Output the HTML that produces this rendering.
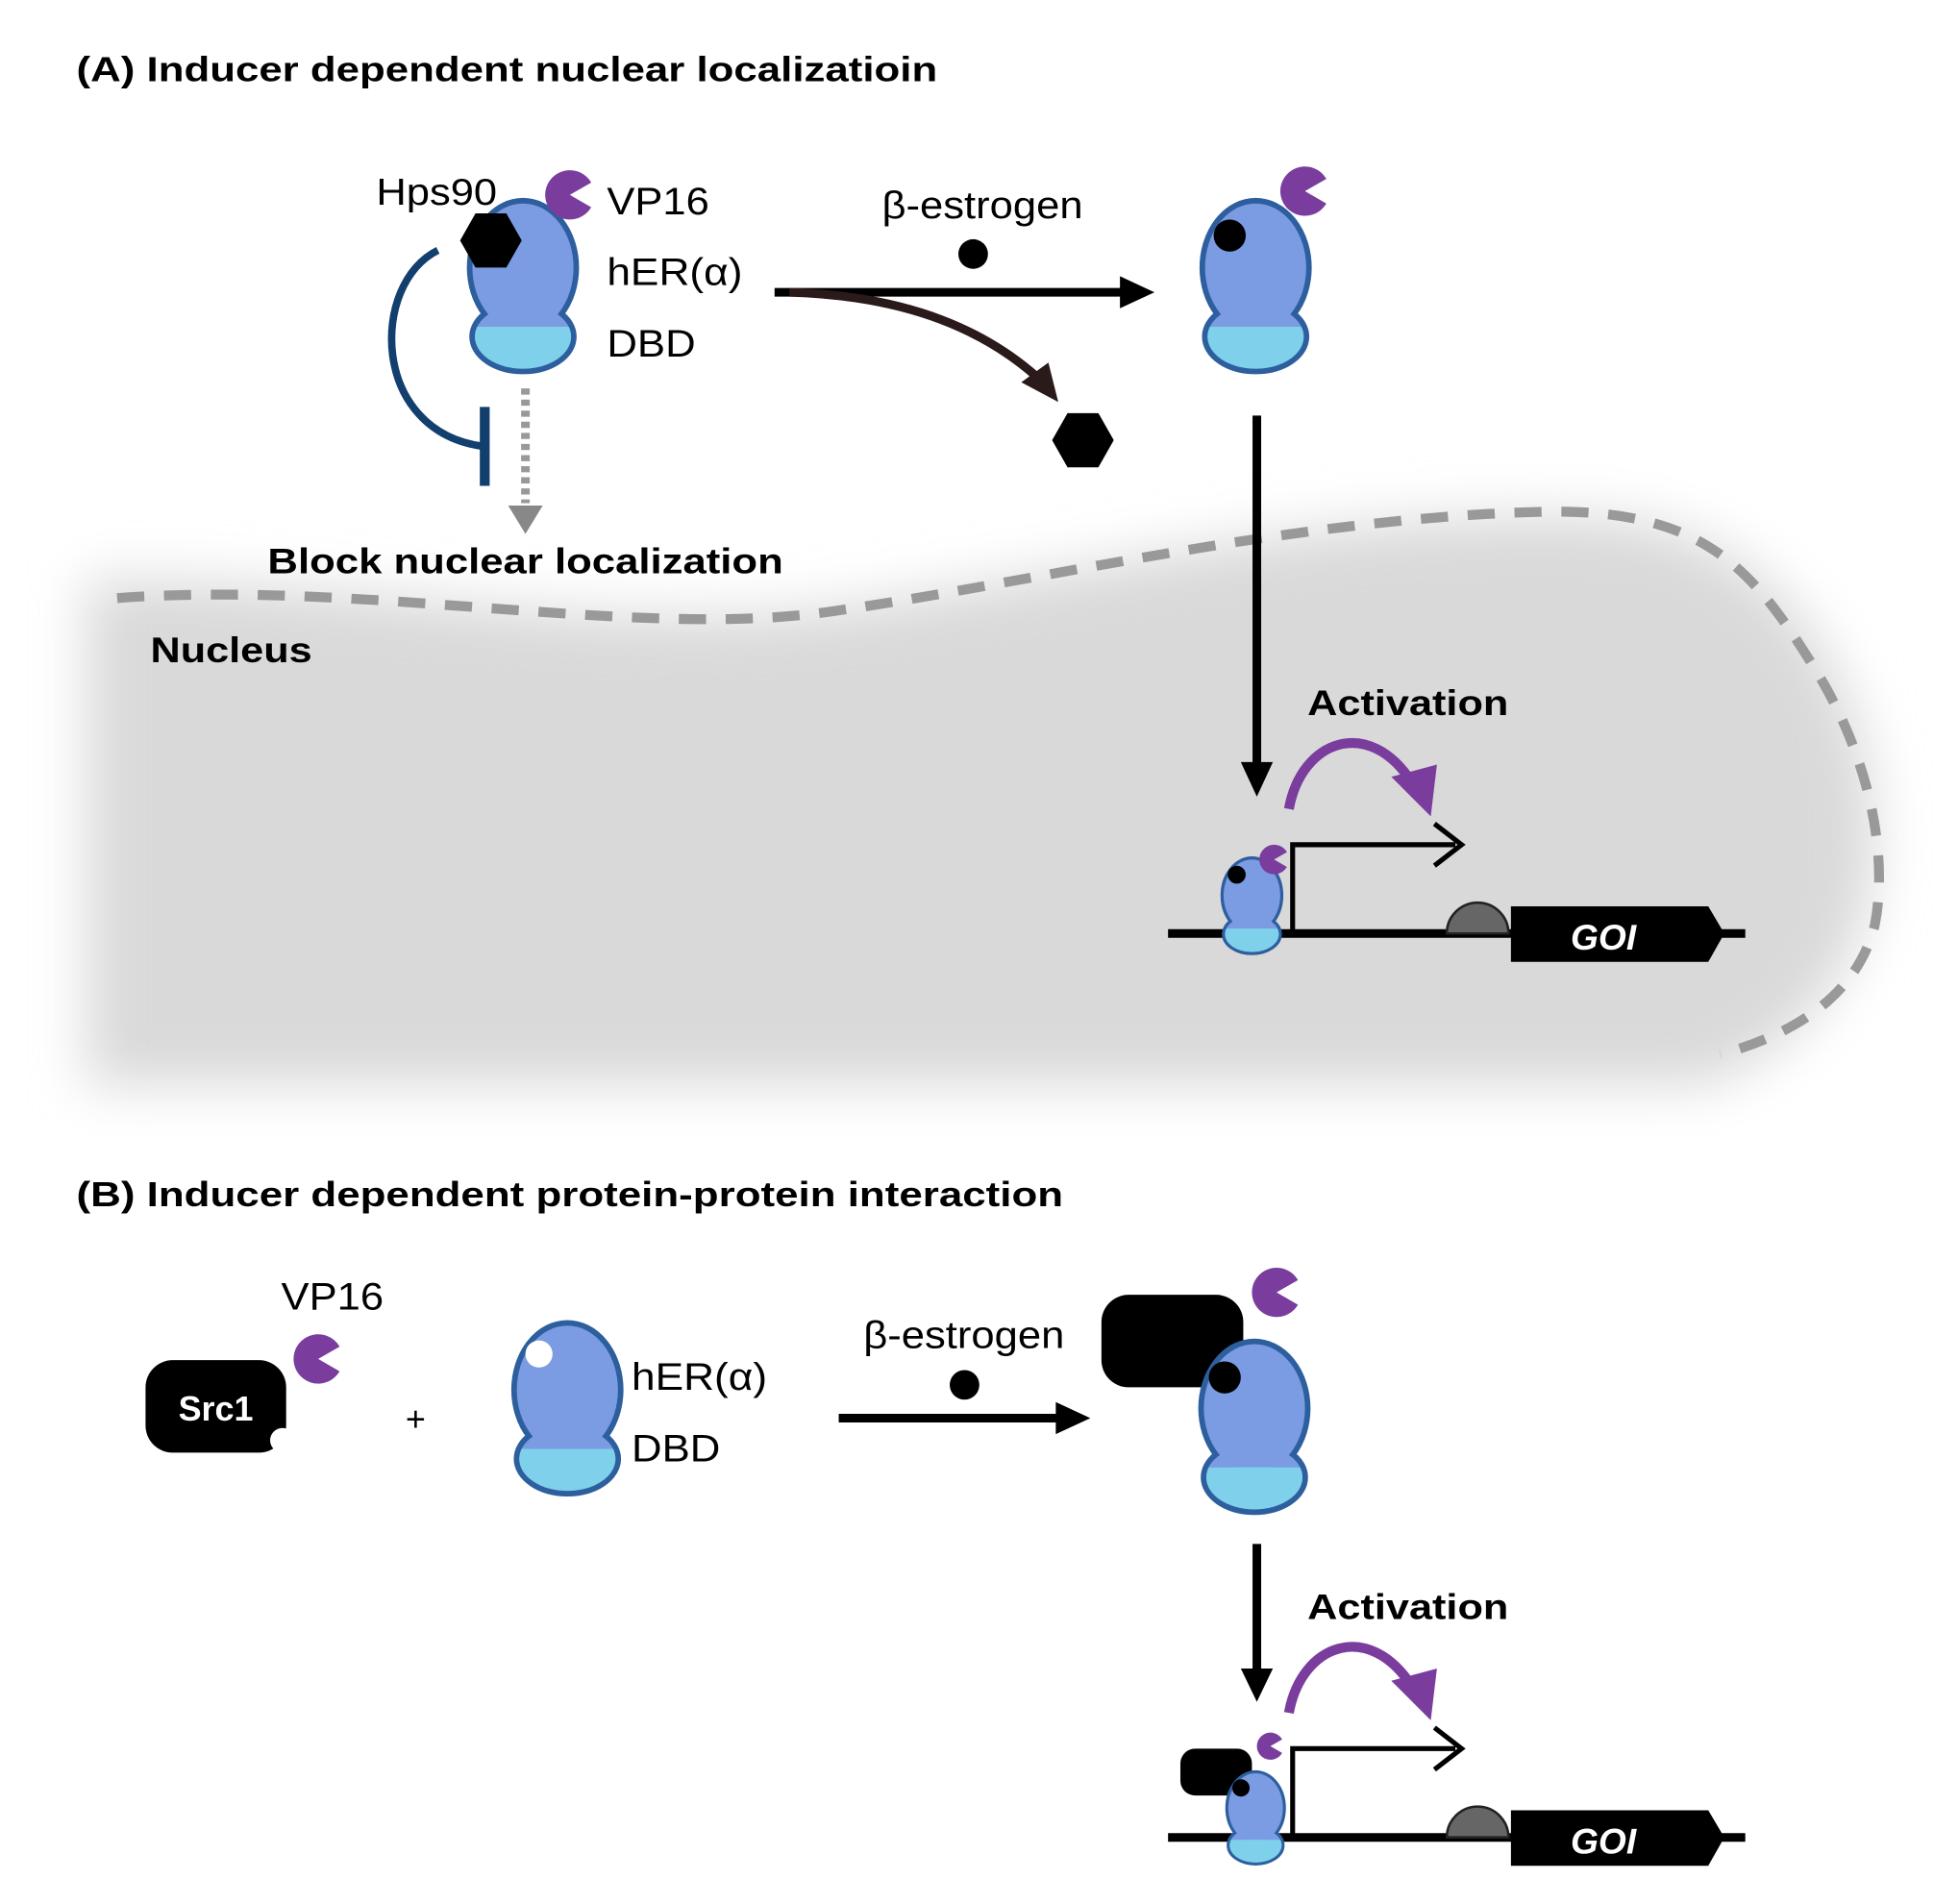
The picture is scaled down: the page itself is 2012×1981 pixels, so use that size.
<!DOCTYPE html>
<html><head><meta charset="utf-8"><style>html,body{margin:0;padding:0;background:#fff}svg{display:block}</style></head>
<body>
<svg width="2012" height="1981" viewBox="0 0 1568 1544" preserveAspectRatio="none" xmlns="http://www.w3.org/2000/svg" font-family="Liberation Sans, Arial, sans-serif">
<defs>
 <filter id="blur" x="-20%" y="-30%" width="140%" height="160%"><feGaussianBlur stdDeviation="22"/></filter>
 <clipPath id="low"><rect x="-60" y="100" width="120" height="60"/></clipPath>
 <symbol id="prot" overflow="visible">
  <g stroke="#2d5f9e" stroke-width="9" fill="none">
   <ellipse cx="0" cy="52" rx="41" ry="52"/><ellipse cx="0" cy="108" rx="39" ry="26"/>
  </g>
  <ellipse cx="0" cy="52" rx="41" ry="52" fill="#7b9be3"/>
  <ellipse cx="0" cy="108" rx="39" ry="26" fill="#7b9be3"/>
  <g clip-path="url(#low)"><ellipse cx="0" cy="52" rx="41" ry="52" fill="#7fd0ea"/><ellipse cx="0" cy="108" rx="39" ry="26" fill="#7fd0ea"/></g>
 </symbol>
 <symbol id="vp" overflow="visible"><path d="M0,0 L18.8,-6.8 A20,20 0 1,0 15.3,12.9 Z" fill="#7a3d9e"/></symbol>
 <symbol id="hex" overflow="visible"><polygon points="-25,0 -12.5,-22 12.5,-22 25,0 12.5,22 -12.5,22" fill="#000"/></symbol>
</defs>

<!-- nucleus -->
<path d="M70,470 C300,470 500,520 700,490 C900,460 1100,410 1300,420 C1450,430 1520,560 1520,680 C1520,800 1440,860 1380,880 L70,880 Z" fill="#d9d9d9" filter="url(#blur)"/>
<path d="M95,485 C300,470 520,520 680,495 C850,470 1050,420 1250,415 C1380,412 1420,460 1470,540 C1520,620 1530,700 1520,750 C1505,810 1450,840 1395,855" fill="none" stroke="#999" stroke-width="8" stroke-dasharray="22,16"/>

<!-- Titles -->
<text x="62" y="66" font-size="28" font-weight="bold" textLength="698" lengthAdjust="spacingAndGlyphs">(A) Inducer dependent nuclear localizatioin</text>
<text x="62" y="978" font-size="28" font-weight="bold" textLength="800" lengthAdjust="spacingAndGlyphs">(B) Inducer dependent protein-protein interaction</text>

<!-- A protein 1 -->
<use href="#prot" x="424" y="165"/>
<use href="#hex" x="398" y="195"/>
<use href="#vp" transform="translate(462,158) rotate(-10)"/>
<text x="305" y="166" font-size="30" textLength="98" lengthAdjust="spacingAndGlyphs">Hps90</text>
<text x="492" y="174" font-size="31" textLength="83" lengthAdjust="spacingAndGlyphs">VP16</text>
<text x="492" y="231" font-size="31" textLength="110" lengthAdjust="spacingAndGlyphs">hER(α)</text>
<text x="492" y="289" font-size="31" textLength="72" lengthAdjust="spacingAndGlyphs">DBD</text>
<path d="M355,203 C300,230 300,350 392,362" fill="none" stroke="#123f6e" stroke-width="6"/>
<line x1="393" y1="330" x2="393" y2="394" stroke="#123f6e" stroke-width="8"/>
<line x1="426" y1="315" x2="426" y2="408" stroke="#999" stroke-width="7" stroke-dasharray="5,4"/>
<polygon points="412,410 440,410 426,433" fill="#888"/>
<text x="217" y="465" font-size="29" font-weight="bold" textLength="418" lengthAdjust="spacingAndGlyphs">Block nuclear localization</text>

<!-- estrogen arrow -->
<text x="715" y="177" font-size="31" textLength="163" lengthAdjust="spacingAndGlyphs">β-estrogen</text>
<circle cx="789" cy="206" r="12" fill="#000"/>
<line x1="628" y1="237" x2="912" y2="237" stroke="#000" stroke-width="7"/>
<polygon points="908,224 936,237 908,250" fill="#000"/>
<path d="M640,237 C740,240 800,270 840,305" fill="none" stroke="#2a1a1a" stroke-width="7"/>
<polygon points="828,310 858,326 850,294" fill="#2a1a1a"/>
<use href="#hex" x="878" y="357"/>

<!-- protein 2 -->
<use href="#prot" x="1018" y="165"/>
<circle cx="997" cy="191" r="13" fill="#000"/>
<use href="#vp" transform="translate(1058,155) rotate(-10)"/>
<line x1="1019" y1="337" x2="1019" y2="620" stroke="#000" stroke-width="7"/>
<polygon points="1006,618 1032,618 1019,646" fill="#000"/>

<text x="122" y="537" font-size="29" font-weight="bold" textLength="131" lengthAdjust="spacingAndGlyphs">Nucleus</text>

<!-- activation A -->
<g id="actA">
<text x="1060" y="580" font-size="29" font-weight="bold" textLength="163" lengthAdjust="spacingAndGlyphs">Activation</text>
<path d="M1045,656 C1055,600 1110,580 1145,635" fill="none" stroke="#7a3d9e" stroke-width="8"/>
<polygon points="1128,630 1165,620 1160,662" fill="#7a3d9e"/>
<polyline points="1048,757 1048,685 1180,685" fill="none" stroke="#000" stroke-width="4"/>
<polyline points="1163,668 1185,685 1163,702" fill="none" stroke="#000" stroke-width="4"/>
<line x1="947" y1="757" x2="1415" y2="757" stroke="#000" stroke-width="7"/>
<path d="M1173,757 A25,25 0 0,1 1223,757 Z" fill="#666" stroke="#222" stroke-width="2"/>
<polygon points="1225,735 1385,735 1398,757 1385,780 1225,780" fill="#000"/>
<text x="1300" y="770" font-size="29" font-weight="bold" font-style="italic" fill="#fff" text-anchor="middle">GOI</text>
</g>
<g transform="translate(1015,697) scale(0.56)"><use href="#prot" x="0" y="0"/><circle cx="-22" cy="22" r="13" fill="#000"/></g>
<use href="#vp" transform="translate(1033,697) scale(0.6) rotate(-10)"/>

<!-- B -->
<rect x="118" y="1103" width="114" height="75" rx="22" fill="#000"/>
<circle cx="229" cy="1168" r="10" fill="#fff"/>
<text x="175" y="1152" font-size="28" font-weight="bold" fill="#fff" text-anchor="middle">Src1</text>
<text x="228" y="1062" font-size="31" textLength="83" lengthAdjust="spacingAndGlyphs">VP16</text>
<use href="#vp" transform="translate(258,1102) rotate(-10)"/>
<text x="337" y="1160" font-size="28" text-anchor="middle">+</text>
<use href="#prot" x="460" y="1075"/>
<circle cx="437" cy="1098" r="11" fill="#fff"/>
<text x="512" y="1127" font-size="31" textLength="110" lengthAdjust="spacingAndGlyphs">hER(α)</text>
<text x="512" y="1185" font-size="31" textLength="72" lengthAdjust="spacingAndGlyphs">DBD</text>
<text x="700" y="1093" font-size="31" textLength="163" lengthAdjust="spacingAndGlyphs">β-estrogen</text>
<circle cx="782" cy="1123" r="12" fill="#000"/>
<line x1="680" y1="1150" x2="860" y2="1150" stroke="#000" stroke-width="7"/>
<polygon points="856,1137 884,1150 856,1163" fill="#000"/>
<rect x="893" y="1050" width="115" height="75" rx="22" fill="#000"/>
<use href="#prot" x="1017" y="1090"/>
<circle cx="993" cy="1117" r="13" fill="#000"/>
<use href="#vp" transform="translate(1035,1048) rotate(-10)"/>
<line x1="1019" y1="1252" x2="1019" y2="1355" stroke="#000" stroke-width="7"/>
<polygon points="1006,1353 1032,1353 1019,1380" fill="#000"/>
<use href="#actA" transform="translate(0,733)"/>
<rect x="957" y="1418" width="58" height="38" rx="12" fill="#000"/>
<g transform="translate(1018,1438) scale(0.54)"><use href="#prot" x="0" y="0"/><circle cx="-22" cy="22" r="13" fill="#000"/></g>
<use href="#vp" transform="translate(1030,1416) scale(0.55) rotate(-10)"/>
</svg>
</body></html>
